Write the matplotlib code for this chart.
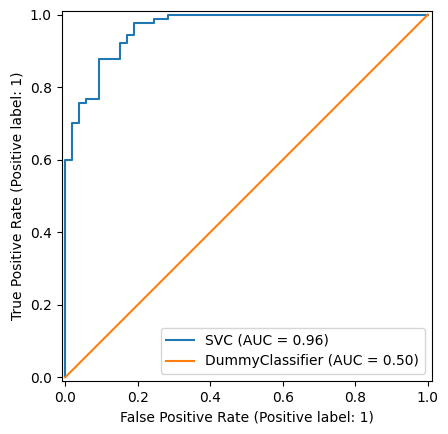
import matplotlib
matplotlib.use("Agg")
import matplotlib.pyplot as plt

# ROC data for SVC
svc_fpr = [0.0, 0.0, 1/53, 1/53, 2/53, 2/53, 3/53, 3/53, 5/53, 5/53, 8/53, 8/53,
           9/53, 9/53, 10/53, 10/53, 13/53, 13/53, 15/53, 15/53, 1.0]
svc_tpr = [0.0, 54/90, 54/90, 63/90, 63/90, 68/90, 68/90, 69/90, 69/90, 79/90, 79/90, 83/90,
           83/90, 85/90, 85/90, 88/90, 88/90, 89/90, 89/90, 1.0, 1.0]
dummy_fpr = [0.0, 1.0]
dummy_tpr = [0.0, 1.0]
labels = ["SVC (AUC = 0.96)", "DummyClassifier (AUC = 0.50)"]

fig = plt.figure(figsize=(4.48, 4.34), dpi=100)
ax = fig.add_axes([61/448, 1 - 381/434, 371/448, 370/434])
ax.plot(svc_fpr, svc_tpr, color="#1f77b4", label=labels[0])
ax.plot(dummy_fpr, dummy_tpr, color="#ff7f0e", label=labels[1])
ax.set_xlim(-0.01, 1.01)
ax.set_ylim(-0.01, 1.01)
ax.set_aspect("equal")
ax.set_xlabel("False Positive Rate (Positive label: 1)")
ax.set_ylabel("True Positive Rate (Positive label: 1)")
ax.legend(loc="lower right")
fig.savefig("out.png", dpi=100)
